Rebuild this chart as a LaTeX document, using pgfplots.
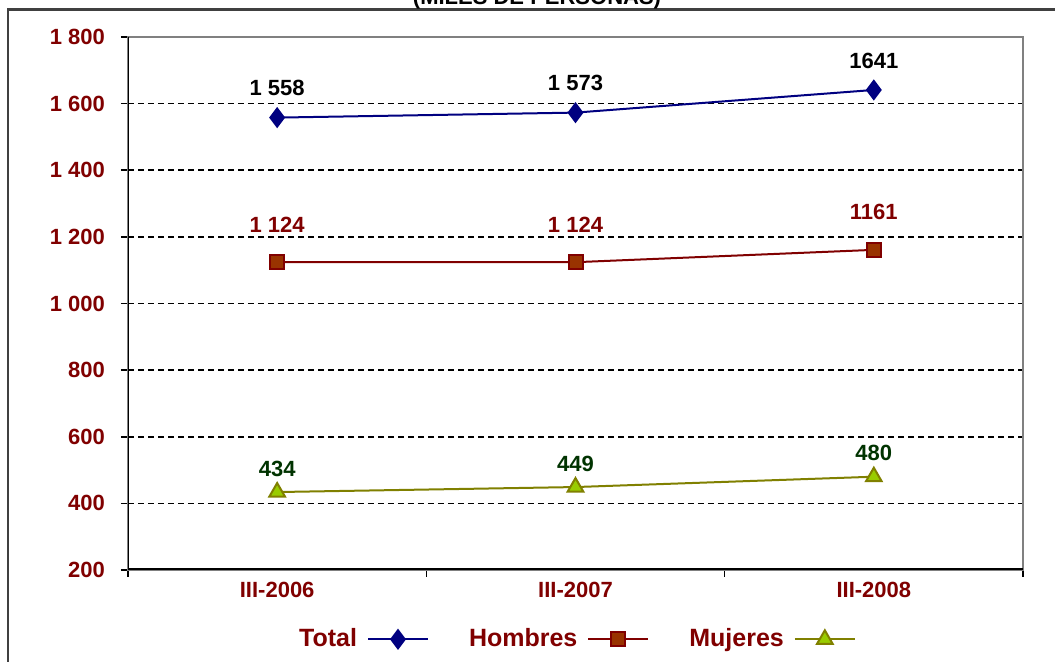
\documentclass[border=0pt]{standalone}
\usepackage{fontspec}
\setmainfont{Liberation Sans}
\usepackage{pgfplots}
\pgfplotsset{compat=1.18}
\definecolor{navy}{HTML}{000080}
\definecolor{dred}{HTML}{800000}
\definecolor{hfill}{HTML}{993300}
\definecolor{olive}{HTML}{808000}
\definecolor{mfill}{HTML}{99CC00}
\definecolor{dgreen}{HTML}{003300}
\newcommand{\lf}{\fontsize{11}{13}\selectfont\bfseries}
\newcommand{\lgf}{\fontsize{12.5}{14}\selectfont\bfseries}
\begin{document}
\begin{tikzpicture}
\useasboundingbox (0,0) rectangle (527.5pt,331pt);
\draw[line width=1.2pt, color=black!75] (4pt,0) -- (4pt,326.25pt) -- (527.5pt,326.25pt);
\node[anchor=base, font=\lf, inner sep=0pt] at (268.5pt,328.5pt) {(MILES DE PERSONAS)};
\begin{axis}[
  at={(64pt,46pt)}, anchor=south west,
  width=447.5pt, height=266.5pt, scale only axis,
  xmin=-0.5, xmax=2.5, ymin=200, ymax=1800,
  axis line style={color=gray, line width=1pt},
  xtick pos=bottom, ytick pos=left,
  tick align=outside, major tick length=3.5pt,
  tick style={black, line width=0.8pt},
  xtick={-0.5,0.5,1.5,2.5}, xticklabels={},
  extra x ticks={0,1,2},
  extra x tick labels={III-2006,III-2007,III-2008},
  extra x tick style={tick style={draw=none}, grid=none},
  xticklabel style={yshift=1pt},
  ytick={200,400,...,1800},
  yticklabels={200,400,600,800,1 000,1 200,1 400,1 600,1 800},
  tick label style={font=\lf, color=dred},
  yticklabel style={xshift=-4.5pt},
  ymajorgrids, grid style={black, dash pattern=on 3pt off 2pt, line width=0.8pt},
  legend plot pos=right,
  legend columns=3,
  legend style={draw=none, fill=none, at={(0.5,-0.13)}, anchor=center,
    font=\lgf, text=dred,
    /tikz/every odd column/.append style={column sep=3pt},
    /tikz/every even column/.append style={column sep=18pt}},
  legend image code/.code={\draw[mark repeat=2, mark phase=2, #1] plot coordinates {(0pt,0pt) (15pt,0pt) (30pt,0pt)};},
  point meta=explicit symbolic,
  nodes near coords,
]
\addplot[color=navy, line width=1pt, mark=diamond*, mark size=4.5pt, mark options={fill=navy, solid},
  every node near coord/.append style={font=\lf, text=black, yshift=7pt}]
  coordinates {(0,1558)[1 558] (1,1573)[1 573] (2,1641)[1641]};
\addlegendentry{Total}
\addplot[color=dred, line width=1pt, mark=square*, mark size=3.5pt, mark options={fill=hfill, draw=dred, solid},
  every node near coord/.append style={font=\lf, text=dred, yshift=11pt}]
  coordinates {(0,1124)[1 124] (1,1124)[1 124] (2,1161)[1161]};
\addlegendentry{Hombres}
\addplot[color=olive, line width=1pt, mark=triangle*, mark size=4.5pt, mark options={fill=mfill, draw=olive, solid},
  every node near coord/.append style={font=\lf, text=dgreen, yshift=4pt}]
  coordinates {(0,434)[434] (1,449)[449] (2,480)[480]};
\addlegendentry{Mujeres}
\draw[gray, line width=1pt] (rel axis cs:0,1) -- (rel axis cs:1,1) -- (rel axis cs:1,0);
\draw[black, line width=1pt] (rel axis cs:0,1) -- (rel axis cs:0,0);
\draw[black, line width=1.5pt] (rel axis cs:0,0) -- (rel axis cs:1,0);
\end{axis}
\end{tikzpicture}
\end{document}
